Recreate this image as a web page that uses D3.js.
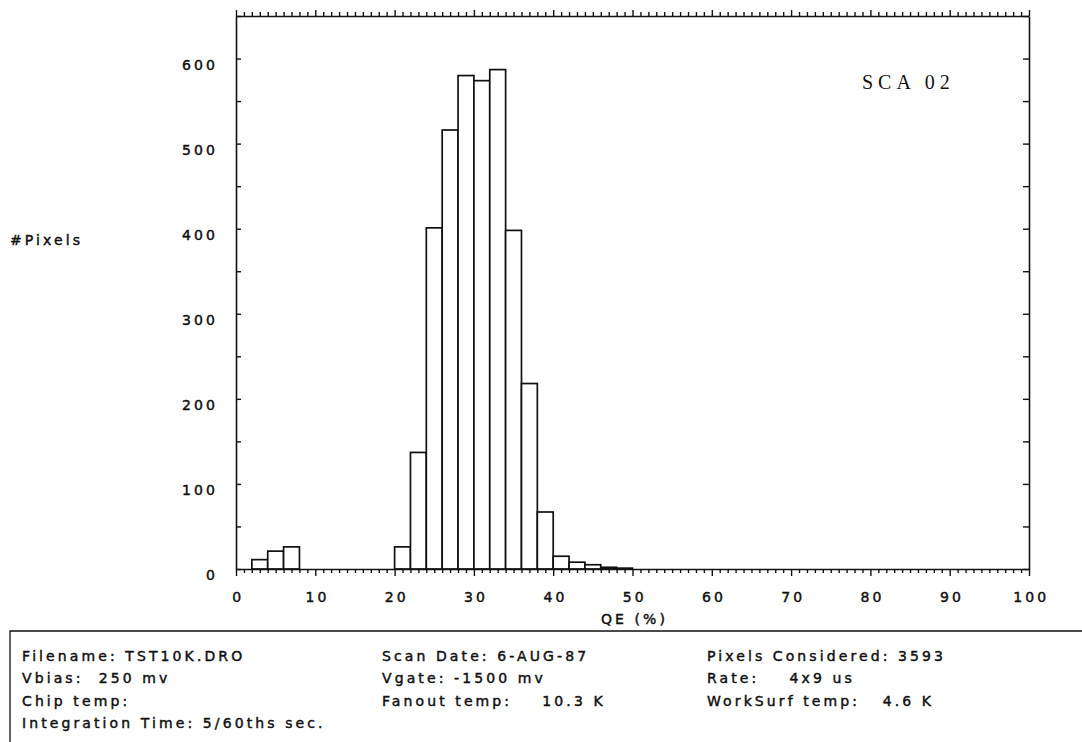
<!DOCTYPE html>
<html>
<head>
<meta charset="utf-8">
<script src="https://cdn.jsdelivr.net/npm/d3@7"></script>
<style>
  body { margin: 0; background: #fff; }
  svg text { font-family: "DejaVu Sans", sans-serif; font-size: 14px; letter-spacing: 3.1px; fill: #111; stroke: #111; stroke-width: 0.45px; white-space: pre; }
</style>
</head>
<body>
<div id="chart"></div>
<script>
// histogram bins (left edge, % QE) and counts
const qeBinStart = [0, 2, 4, 6, 8, 10, 12, 14, 16, 18, 20, 22, 24, 26, 28, 30, 32, 34, 36, 38, 40, 42, 44, 46, 48];
const pixelCounts = [0, 11, 21, 26, 0, 0, 0, 0, 0, 0, 26, 137, 401, 516, 580, 574, 587, 398, 218, 67, 15, 8, 5, 2, 1];
const binWidth = 2;

const xLabelTicks = [0, 10, 20, 30, 40, 50, 60, 70, 80, 90, 100];
const yLabelTicks = [0, 100, 200, 300, 400, 500, 600];

const chipLabel = 'SCA 02';
const xTitle = 'QE (%)';
const yTitle = '#Pixels';

// info block below the plot, three columns per row
const infoRows = [
  ['Filename: TST10K.DRO', 'Scan Date: 6-AUG-87', 'Pixels Considered: 3593'],
  ['Vbias:  250 mv', 'Vgate: -1500 mv', 'Rate:    4x9 us'],
  ['Chip temp:', 'Fanout temp:    10.3 K', 'WorkSurf temp:   4.6 K'],
  ['Integration Time: 5/60ths sec.', '', '']
];

function histPlot() {
  const width = 1082;
  const height = 742;

  const svg = d3.select('#chart')
    .append('svg')
    .attr('width', width)
    .attr('height', height)
    .style('display', 'block');

  svg.append('rect').attr('width', width).attr('height', height).attr('fill', '#fff');

  const x = d3.scaleLinear().domain([0, 100]).range([236, 1029]);
  const y = d3.scaleLinear().domain([0, 650]).range([569, 16]);

  // bars
  svg.append('g')
    .selectAll('rect')
    .data(qeBinStart.map((b, i) => ({ b: b, n: pixelCounts[i] })).filter(d => d.n > 0))
    .enter()
    .append('rect')
    .attr('x', d => x(d.b))
    .attr('y', d => y(d.n))
    .attr('width', d => x(d.b + binWidth) - x(d.b))
    .attr('height', d => y(0) - y(d.n))
    .attr('fill', '#fff')
    .attr('stroke', '#111')
    .attr('stroke-width', 1.7);

  const unitTicks = d3.range(0, 101);
  const fmtX = d => (xLabelTicks.includes(d) ? d : '');

  // bottom axis: unit ticks, labels every 10
  const bottom = svg.append('g')
    .attr('transform', `translate(0,${y(0)})`)
    .call(d3.axisBottom(x).tickValues(unitTicks).tickFormat(fmtX).tickSize(4).tickPadding(19).tickSizeOuter(0));
  bottom.selectAll('.tick line').attr('y2', d => (d % 10 === 0 ? 7 : 4));
  bottom.selectAll('.tick text').attr('dx', '0.12em');

  // top axis: unit ticks pointing up, no labels
  const top = svg.append('g')
    .attr('transform', `translate(0,${y(650)})`)
    .call(d3.axisTop(x).tickValues(unitTicks).tickFormat('').tickSize(4).tickSizeOuter(0));
  top.selectAll('.tick line').attr('y2', d => (d % 10 === 0 ? -6 : -4));

  const yTicks = d3.range(0, 651, 50);

  // left axis: ticks inward, labels hang just under each tick
  const left = svg.append('g')
    .attr('transform', `translate(${x(0)},0)`)
    .call(d3.axisLeft(y).tickValues(yTicks).tickFormat(d => (yLabelTicks.includes(d) ? d : ''))
      .tickSize(-5).tickPadding(18).tickSizeOuter(0));
  left.selectAll('.tick text').attr('dy', '0.75em');

  // right axis
  svg.append('g')
    .attr('transform', `translate(${x(100)},0)`)
    .call(d3.axisRight(y).tickValues(yTicks).tickFormat('').tickSize(-6).tickSizeOuter(0));

  svg.selectAll('.domain').attr('stroke', '#111').attr('stroke-width', 1.6);
  svg.selectAll('.tick line').attr('stroke', '#111').attr('stroke-width', 1.4);
  svg.selectAll('.tick text')
    .attr('fill', '#111')
    .style('font-family', '"DejaVu Sans", sans-serif')
    .style('font-size', '14px');

  // titles
  svg.append('text')
    .attr('x', (x(0) + x(100)) / 2 + 2)
    .attr('y', 624)
    .attr('text-anchor', 'middle')
    .text(xTitle);

  svg.append('text')
    .attr('x', 10)
    .attr('y', 245)
    .text(yTitle);

  svg.append('text')
    .attr('x', 862)
    .attr('y', 89)
    .style('font-family', '"Liberation Serif", serif')
    .style('font-size', '20px')
    .style('letter-spacing', '5px')
    .style('stroke-width', '0')
    .attr('fill', '#333')
    .text(chipLabel);

  // info box
  svg.append('path')
    .attr('d', 'M10,742V631H1082')
    .attr('fill', 'none')
    .attr('stroke', '#111')
    .attr('stroke-width', 1.3);

  const colX = [22, 382, 707];
  const rowY = [661, 683, 706, 728];
  infoRows.forEach((row, r) => {
    row.forEach((cell, c) => {
      if (!cell) return;
      svg.append('text')
        .attr('x', colX[c])
        .attr('y', rowY[r])
        .text(cell);
    });
  });
}

window.onload = function () {
  histPlot();
};
</script>
</body>
</html>
